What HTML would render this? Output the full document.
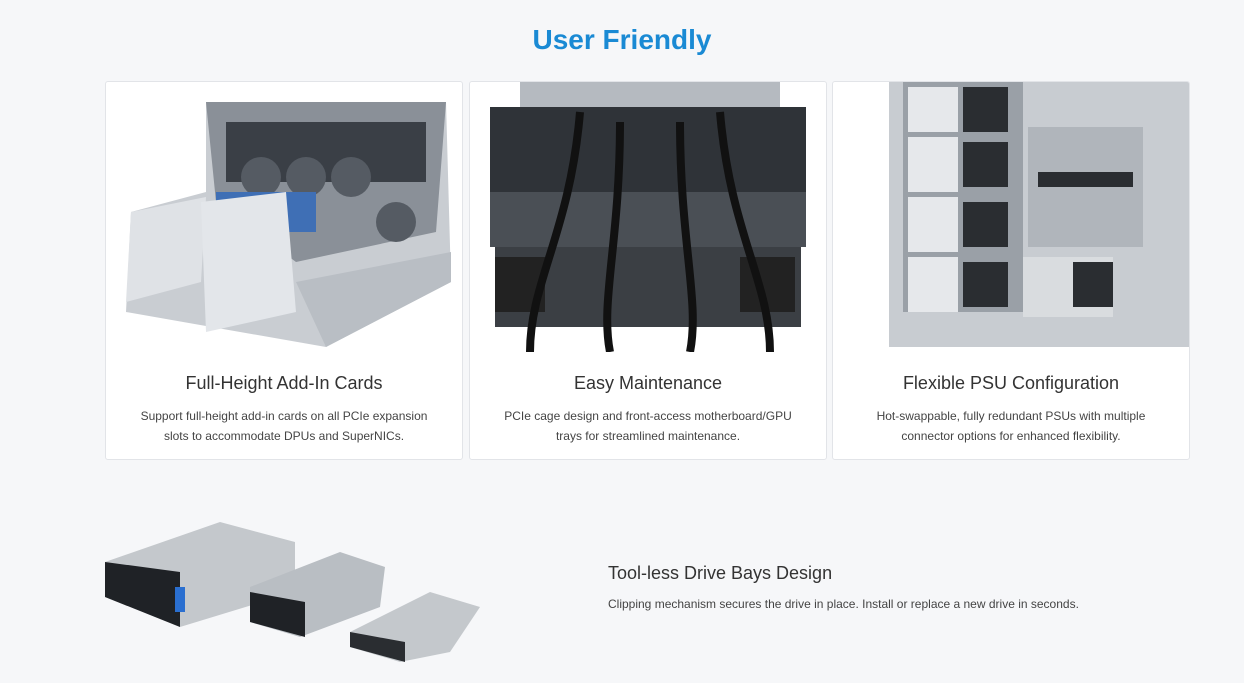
<!DOCTYPE html>
<html><head><meta charset="utf-8"><style>
body{margin:0;width:1244px;height:683px;background:#f6f7f9;font-family:"Liberation Sans",sans-serif;position:relative;overflow:hidden}
h1{position:absolute;top:24px;left:0;width:1244px;text-align:center;margin:0;font-size:28px;color:#1a8ad4;font-weight:bold}
.card{position:absolute;top:81px;width:356px;height:377px;background:#fff;border:1px solid #e2e4e8;border-radius:3px;overflow:hidden}
.img{position:absolute;left:0;top:0;width:100%;height:270px}
.t{position:absolute;top:291px;width:100%;text-align:center;font-size:18px;color:#333}
.d{position:absolute;top:324px;left:30px;right:30px;text-align:center;font-size:12px;line-height:20px;color:#444}
</style></head><body>
<h1>User Friendly</h1>
<div class="card" style="left:105px">
<svg class="img" viewBox="0 0 356 270">
<polygon points="100,20 340,20 345,200 220,265 20,230 25,130 100,110" fill="#c9cdd2"/>
<polygon points="100,20 340,20 330,150 190,180 110,120" fill="#8a9098"/>
<rect x="120" y="40" width="200" height="60" fill="#3a3f46"/>
<circle cx="155" cy="95" r="20" fill="#555b63"/><circle cx="200" cy="95" r="20" fill="#555b63"/><circle cx="245" cy="95" r="20" fill="#555b63"/><circle cx="290" cy="140" r="20" fill="#555b63"/>
<rect x="110" y="110" width="100" height="40" fill="#3f6fb5"/>
<polygon points="25,130 100,115 95,200 20,220" fill="#dfe2e6"/>
<polygon points="95,120 180,110 190,230 100,250" fill="#e3e6ea"/>
<polygon points="190,200 345,170 345,200 220,265" fill="#b9bec4"/>
</svg>
<div class="t">Full-Height Add-In Cards</div>
<div class="d">Support full-height add-in cards on all PCIe expansion slots to accommodate DPUs and SuperNICs.</div>
</div>
<div class="card" style="left:469px">
<svg class="img" viewBox="0 0 356 270">
<rect x="50" y="0" width="260" height="30" fill="#b5bac0"/>
<rect x="20" y="25" width="316" height="85" fill="#2f3338"/>
<rect x="20" y="110" width="316" height="55" fill="#4a4f55"/>
<rect x="25" y="165" width="306" height="80" fill="#3b3f44"/>
<rect x="25" y="175" width="50" height="55" fill="#222"/><rect x="270" y="175" width="55" height="55" fill="#222"/>
<path d="M110 30 C100 150 60 200 60 270 M250 30 C260 150 300 200 300 270 M150 40 C150 160 130 220 140 270 M210 40 C210 160 230 220 220 270" stroke="#111" stroke-width="8" fill="none"/>
</svg>
<div class="t">Easy Maintenance</div>
<div class="d">PCIe cage design and front-access motherboard/GPU trays for streamlined maintenance.</div>
</div>
<div class="card" style="left:832px">
<svg class="img" viewBox="0 0 356 270">
<rect x="56" y="0" width="300" height="265" fill="#c8ccd1"/>
<rect x="70" y="0" width="120" height="230" fill="#9aa0a7"/>
<rect x="75" y="5" width="50" height="45" fill="#e6e8eb"/><rect x="75" y="55" width="50" height="55" fill="#e6e8eb"/><rect x="75" y="115" width="50" height="55" fill="#e6e8eb"/><rect x="75" y="175" width="50" height="55" fill="#e6e8eb"/>
<rect x="130" y="5" width="45" height="45" fill="#2a2d31"/><rect x="130" y="60" width="45" height="45" fill="#2a2d31"/><rect x="130" y="120" width="45" height="45" fill="#2a2d31"/><rect x="130" y="180" width="45" height="45" fill="#2a2d31"/>
<rect x="195" y="45" width="115" height="120" fill="#b0b5bb"/><rect x="205" y="90" width="95" height="15" fill="#2a2d31"/>
<rect x="190" y="175" width="90" height="60" fill="#d9dcdf"/><rect x="240" y="180" width="40" height="45" fill="#2a2d31"/>
</svg>
<div class="t">Flexible PSU Configuration</div>
<div class="d">Hot-swappable, fully redundant PSUs with multiple connector options for enhanced flexibility.</div>
</div>
<svg style="position:absolute;left:100px;top:512px" width="390" height="160" viewBox="0 0 390 160">
<polygon points="5,50 120,10 195,30 195,80 80,115 5,85" fill="#c4c8cc"/>
<polygon points="5,50 80,60 80,115 5,85" fill="#1f2226"/>
<rect x="75" y="75" width="10" height="25" fill="#2a6fd0"/>
<polygon points="150,75 240,40 285,55 280,95 200,125 150,110" fill="#b9bec3"/>
<polygon points="150,80 205,90 205,125 150,110" fill="#1f2226"/>
<polygon points="250,120 330,80 380,95 350,140 300,150 250,135" fill="#c4c8cc"/>
<polygon points="250,120 305,130 305,150 250,135" fill="#2a2d31"/>
</svg>
<div style="position:absolute;left:608px;top:563px;font-size:18px;color:#333">Tool-less Drive Bays Design</div>
<div style="position:absolute;left:608px;top:597px;font-size:12px;color:#444">Clipping mechanism secures the drive in place. Install or replace a new drive in seconds.</div>
</body></html>
